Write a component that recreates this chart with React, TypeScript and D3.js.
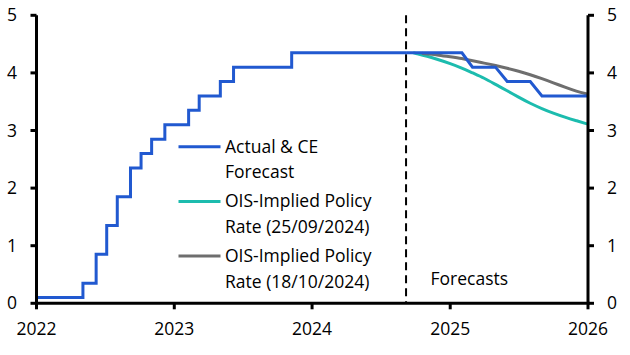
import React from "react";
import * as d3 from "d3";

// Actual policy rate: change dates and new levels
const histDates = [
  "2022-01-01", "2022-05-04", "2022-06-08", "2022-07-06", "2022-08-03", "2022-09-07",
  "2022-10-05", "2022-11-02", "2022-12-07", "2023-02-08", "2023-03-08", "2023-05-03",
  "2023-06-07", "2023-11-08", "2024-09-06",
];
const histValues = [0.1, 0.35, 0.85, 1.35, 1.85, 2.35, 2.6, 2.85, 3.1, 3.35, 3.6, 3.85, 4.1, 4.35, 4.35];

// CE forecast (monthly)
const fcDates = [
  "2024-09-06", "2024-10-01", "2024-11-01", "2024-12-01", "2025-01-01", "2025-02-01",
  "2025-03-01", "2025-04-01", "2025-05-01", "2025-06-01", "2025-07-01", "2025-08-01",
  "2025-09-01", "2025-10-01", "2025-11-01", "2025-12-01", "2026-01-01",
];
const fcValues = [4.35, 4.35, 4.35, 4.35, 4.35, 4.35, 4.1, 4.1, 4.1, 3.85, 3.85, 3.85, 3.6, 3.6, 3.6, 3.6, 3.6];

// OIS-implied policy rate (25/09/2024)
const ois1Dates = [
  "2024-09-25", "2024-10-01", "2024-11-01", "2024-12-01", "2025-01-01", "2025-02-01", "2025-03-01",
  "2025-04-01", "2025-05-01", "2025-06-01", "2025-07-01", "2025-08-01", "2025-09-01",
  "2025-10-01", "2025-11-01", "2025-12-01", "2026-01-01",
];
const ois1Values = [4.35, 4.34, 4.29, 4.23, 4.165, 4.085, 4.0, 3.91, 3.8, 3.69, 3.58, 3.47, 3.38, 3.3, 3.23, 3.17, 3.11];

// OIS-implied policy rate (18/10/2024)
const ois2Dates = [
  "2024-10-18", "2024-11-01", "2024-12-01", "2025-01-01", "2025-02-01", "2025-03-01",
  "2025-04-01", "2025-05-01", "2025-06-01", "2025-07-01", "2025-08-01", "2025-09-01",
  "2025-10-01", "2025-11-01", "2025-12-01", "2026-01-01",
];
const ois2Values = [4.34, 4.33, 4.31, 4.28, 4.25, 4.21, 4.17, 4.13, 4.08, 4.03, 3.97, 3.9, 3.83, 3.75, 3.68, 3.63];

const xTicks = ["2022-01-01", "2023-01-01", "2024-01-01", "2025-01-01", "2026-01-01"];
const yTicks = [0, 1, 2, 3, 4, 5];
const forecastStart = "2024-09-06";

const legendLabels = [
  ["Actual & CE", "Forecast"],
  ["OIS-Implied Policy", "Rate (25/09/2024)"],
  ["OIS-Implied Policy", "Rate (18/10/2024)"],
];

const BLUE = "#2159d0";
const TEAL = "#1cbcae";
const GRAY = "#6e6e6e";
const legendColors = [BLUE, TEAL, GRAY];

const FONT = "'Open Sans', sans-serif";
const FS = 17.5;

export default function App() {
  const W = 630, H = 355;
  const left = 36.5, right = 588, top = 15.3, bottom = 303.3;
  const parse = (s: string) => new Date(s + "T00:00:00");
  const x = d3.scaleTime().domain([parse("2022-01-01"), parse("2026-01-01")]).range([left, right]);
  const y = d3.scaleLinear().domain([0, 5]).range([bottom, top]);

  const toPts = (ds: string[], vs: number[]) => ds.map((d, i) => [x(parse(d)), y(vs[i])] as [number, number]);
  const stepLine = d3.line().curve(d3.curveStepAfter);
  const linLine = d3.line().curve(d3.curveLinear);
  const smooth = d3.line().curve(d3.curveBasis);

  const histPath = stepLine(toPts(histDates, histValues)) || "";
  const fcPath = linLine(toPts(fcDates, fcValues)) || "";
  const ois1Path = smooth(toPts(ois1Dates, ois1Values)) || "";
  const ois2Path = smooth(toPts(ois2Dates, ois2Values)) || "";
  const fx = x(parse(forecastStart));

  return (
    <svg width={W} height={H} style={{ position: "absolute", left: 0, top: 0, background: "#fff" }}
      fontFamily={FONT} fontSize={FS}>
      {/* dashed forecast divider */}
      <line x1={fx} x2={fx} y1={top} y2={bottom} stroke="#000" strokeWidth={2} strokeDasharray="8,5" />
      {/* series */}
      <path d={ois1Path} fill="none" stroke={TEAL} strokeWidth={3} />
      <path d={ois2Path} fill="none" stroke={GRAY} strokeWidth={3} />
      <path d={histPath} fill="none" stroke={BLUE} strokeWidth={3} />
      <path d={fcPath} fill="none" stroke={BLUE} strokeWidth={3} />

      {/* axes */}
      <line x1={left} x2={left} y1={top} y2={bottom} stroke="#000" strokeWidth={3} />
      <line x1={right} x2={right} y1={top} y2={bottom} stroke="#000" strokeWidth={3} />
      <line x1={left - 1.5} x2={right + 1.5} y1={bottom} y2={bottom} stroke="#000" strokeWidth={3} />
      {yTicks.map((t) => (
        <g key={"y" + t}>
          <line x1={left - 6} x2={left} y1={y(t)} y2={y(t)} stroke="#000" strokeWidth={3} />
          <line x1={right} x2={right + 6} y1={y(t)} y2={y(t)} stroke="#000" strokeWidth={3} />
          <text x={17} y={y(t)} dy="0.35em" textAnchor="end" fill="#000">{t}</text>
          <text x={607} y={y(t)} dy="0.35em" textAnchor="start" fill="#000">{t}</text>
        </g>
      ))}
      {xTicks.map((t) => (
        <g key={t}>
          <line x1={x(parse(t))} x2={x(parse(t))} y1={bottom} y2={bottom + 6} stroke="#000" strokeWidth={3} />
          <text x={x(parse(t))} y={335} textAnchor="middle" fill="#000">{parse(t).getFullYear()}</text>
        </g>
      ))}

      {/* legend */}
      {legendLabels.map((lab, i) => {
        const ly = 146.7 + i * 54.7;
        return (
          <g key={"lg" + i}>
            <line x1={178.5} x2={220.5} y1={ly} y2={ly} stroke={legendColors[i]} strokeWidth={3} />
            <text x={225} y={ly + 6} fill="#000">{lab[0]}</text>
            <text x={225} y={ly + 31.6} fill="#000">{lab[1]}</text>
          </g>
        );
      })}

      <text x={430.5} y={285} fill="#000">Forecasts</text>
    </svg>
  );
}
